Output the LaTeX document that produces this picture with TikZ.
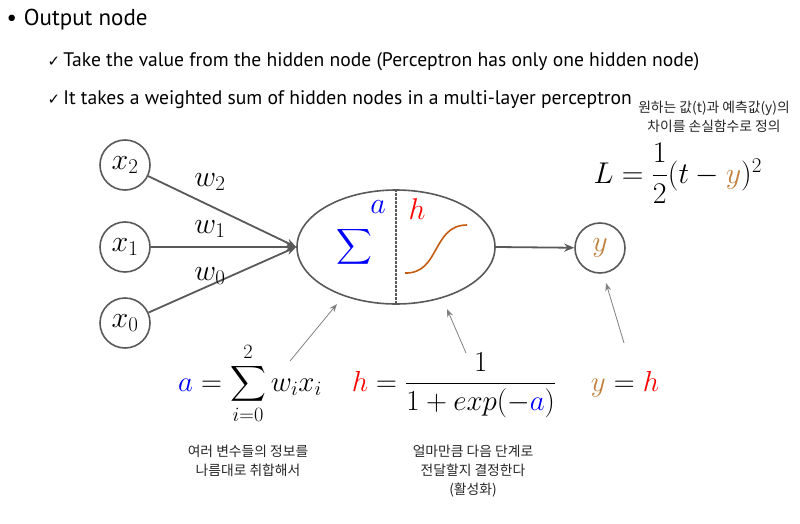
\RequirePackage{fix-cm}
\documentclass[tikz,border=0pt]{standalone}
\usepackage{amsmath}
\usepackage[no-math]{fontspec}
\newfontfamily\gill{PT Sans}
\newfontfamily\kor{Noto Sans CJK KR}
\newfontfamily\sym{DejaVu Sans}
\usetikzlibrary{arrows.meta, shapes.geometric, positioning}

\definecolor{linegray}{HTML}{595959}
\definecolor{pointgray}{HTML}{808080}
\definecolor{ycol}{HTML}{C0803F}
\definecolor{sigcol}{HTML}{C55A11}

\tikzset{
  unit/.style={circle, draw=linegray, line width=1.6pt, minimum size=50pt, inner sep=0pt,
    font=\fontsize{30}{34}\selectfont},
  link/.style={draw=linegray, line width=1.8pt, -{Stealth[length=10pt, width=8pt]}},
  pointer/.style={draw=pointgray, line width=0.8pt, -{Stealth[length=8pt, width=6pt]}},
  memo/.style={font=\kor\fontsize{13.8}{19}\selectfont, align=center, text=black!85},
  formula/.style={anchor=base, font=\fontsize{29}{34}\selectfont},
}

\begin{document}
\begin{tikzpicture}[x=1pt, y=-1pt]
  \useasboundingbox (0,0) rectangle (800,524);

  % bullet text at the top
  \node[anchor=west, font=\gill\fontsize{23}{27}\selectfont] (head) at (3,20) {\textbullet\hspace{7pt}Output node};
  \node[anchor=west, font=\gill\fontsize{19.6}{24}\selectfont] (take) at (44,62) {{\sym\fontsize{15}{18}\selectfont ✓}\,Take the value from the hidden node (Perceptron has only one hidden node)};
  \node[anchor=west, font=\gill\fontsize{19.6}{24}\selectfont] (sum) at (44,100) {{\sym\fontsize{15}{18}\selectfont ✓}\,It takes a weighted sum of hidden nodes in a multi-layer perceptron};

  % loss
  \node[memo] (lossnote) at (714,117) {원하는 값(t)과 예측값(y)의\\차이를 손실함수로 정의};
  \node[formula, anchor=base west, font=\fontsize{30}{34}\selectfont] (loss) at (590,183) {$L=\dfrac{1}{2}(t-\textcolor{ycol}{y})^2$};

  % input nodes
  \node[unit] (x2) at (125,165) {$x_2$};
  \node[unit] (x1) at (125,247) {$x_1$};
  \node[unit] (x0) at (125,323) {$x_0$};

  % hidden node
  \node[ellipse, draw=linegray, line width=1.6pt, minimum width=198pt, minimum height=114pt, inner sep=0pt] (hid) at (396,247) {};
  \draw[linegray, line width=2.6pt, dash pattern=on 2.5pt off 1.5pt] (hid.north) -- (hid.south);
  \node[text=blue, font=\fontsize{40}{44}\selectfont] (sig) at (354,247) {$\displaystyle\sum$};
  \node[text=blue, font=\fontsize{30}{34}\selectfont] (alab) at (378,207) {$a$};
  \node[text=red, font=\fontsize{30}{34}\selectfont] (hlab) at (417,209) {$h$};
  \draw[sigcol, line width=1.6pt] (405,273) .. controls (440,274) and (432,225) .. (467,225);

  % output node
  \node[unit] (y) at (600,248) {$\textcolor{ycol}{y}$};

  % weights
  \draw[link] (x2) -- (hid.west);
  \draw[link] (x1) -- (hid.west);
  \draw[link] (x0) -- (hid.west);
  \draw[link] (hid.east) -- (y);
  \node[font=\fontsize{30}{34}\selectfont] (wtwo) at (210,182) {$w_2$};
  \node[font=\fontsize{30}{34}\selectfont] (wone) at (210,229) {$w_1$};
  \node[font=\fontsize{30}{34}\selectfont] (wzero) at (210,276) {$w_0$};

  % formulas below
  \node[formula] (aeq) at (250,391) {$\textcolor{blue}{a}=\displaystyle\sum_{i=0}^{2}w_ix_i$};
  \node[formula] (heq) at (454,391) {$\textcolor{red}{h}=\dfrac{1}{1+exp(-\textcolor{blue}{a})}$};
  \node[formula] (yeq) at (625,391) {$\textcolor{ycol}{y}=\textcolor{red}{h}$};

  % pointers
  \coordinate (pa) at (290,361);
  \coordinate (ta) at (337,304);
  \coordinate (ph) at (466,353);
  \coordinate (th) at (447,309);
  \coordinate (py) at (624,343);
  \coordinate (ty) at (606,283);
  \draw[pointer] (pa) -- (ta);
  \draw[pointer] (ph) -- (th);
  \draw[pointer] (py) -- (ty);

  % notes
  \node[memo] (anote) at (248,461) {여러 변수들의 정보를\\나름대로 취합해서};
  \node[memo] (hnote) at (473,471) {얼마만큼 다음 단계로\\전달할지 결정한다\\(활성화)};
\end{tikzpicture}
\end{document}
